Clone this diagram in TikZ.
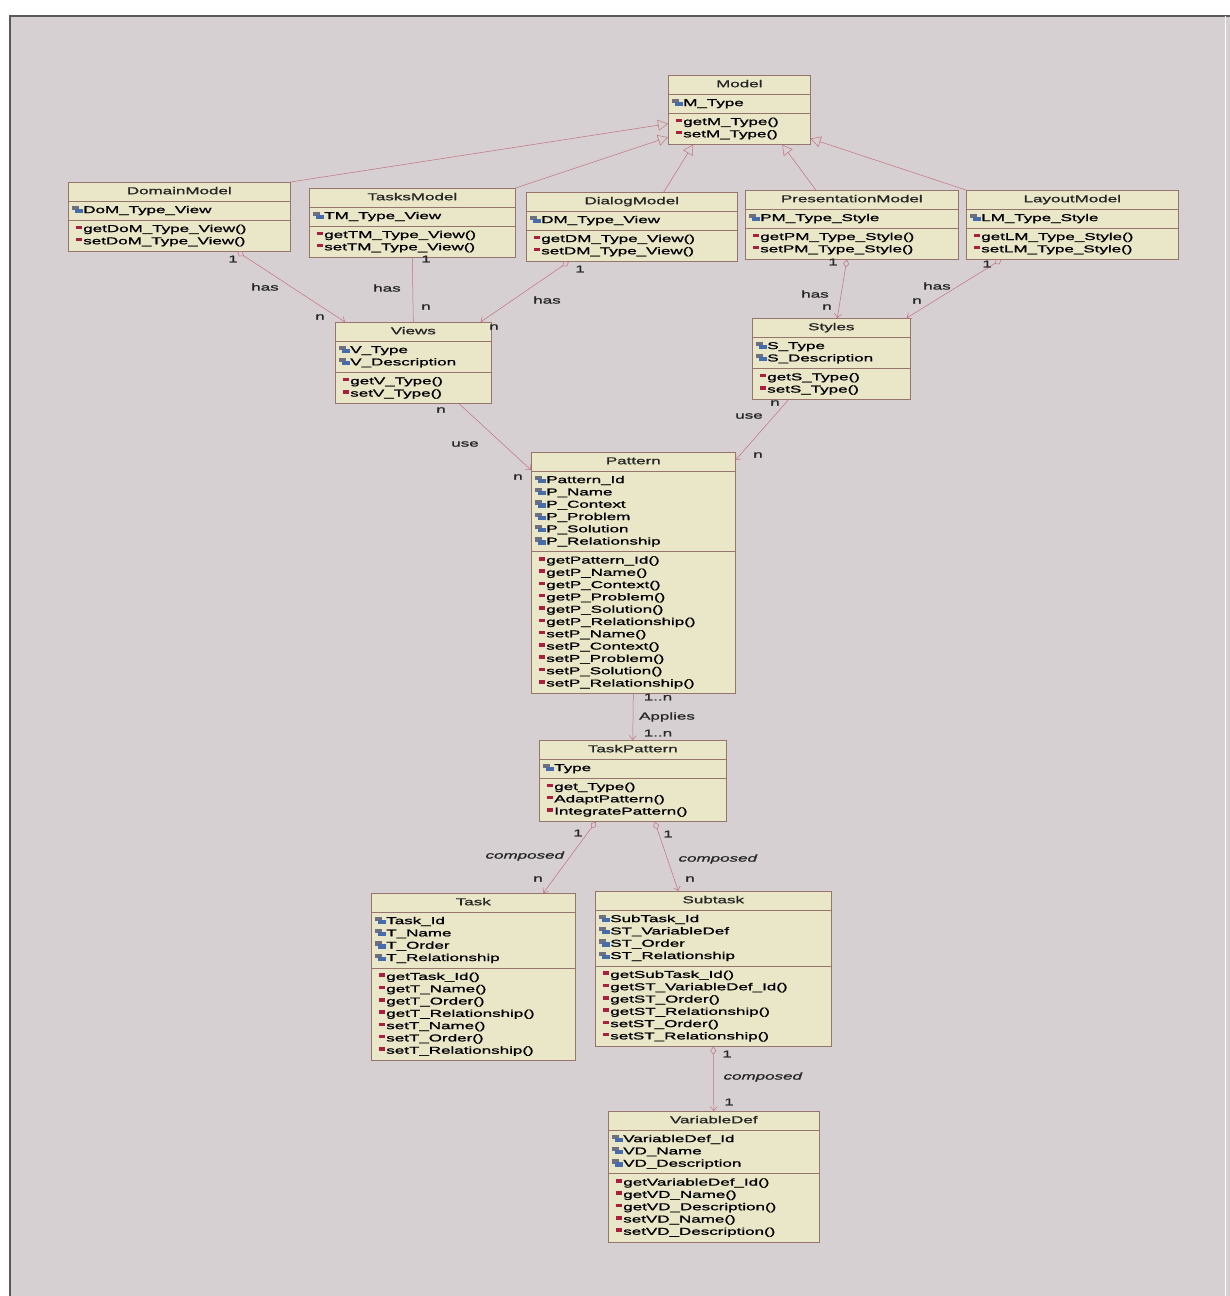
\documentclass[tikz,border=0pt]{standalone}
\usepackage{fontspec}
\setmainfont{Liberation Sans}[FakeStretch=1.7, FakeBold=1.2]
\usepackage{xcolor}
\usetikzlibrary{shapes.multipart,arrows.meta}

\definecolor{panelgray}{RGB}{214,208,211}
\definecolor{clsfill}{RGB}{234,231,200}
\definecolor{clsline}{RGB}{150,118,108}
\definecolor{linkcol}{RGB}{196,112,126}
\definecolor{attblue}{RGB}{70,108,170}
\definecolor{attgray}{RGB}{110,112,128}
\definecolor{opred}{RGB}{168,32,62}

\newcommand{\atticon}{\mbox{\rlap{\textcolor{attgray}{\rule[3pt]{7pt}{4.5pt}}}\hspace{2.5pt}\textcolor{attblue}{\rule[0pt]{8pt}{4.5pt}}\hspace{0.5pt}}}
\newcommand{\opicon}{\mbox{\hspace*{4pt}\textcolor{opred}{\rule[3pt]{6pt}{3.5pt}}\hspace{1pt}}}
\newcommand{\attr}[1]{\atticon#1\strut}
\newcommand{\oper}[1]{\opicon#1\strut}
\newcommand{\ctitle}[1]{\hspace*{\fill}#1\hspace*{\fill}\strut}

\begin{document}
\begin{tikzpicture}[x=1pt, y=-1pt,
  umlclass/.style={rectangle split, rectangle split parts=3, draw=clsline, fill=clsfill,
    anchor=north west, align=left, inner xsep=4pt, inner ysep=3pt, line width=0.6pt,
    font=\fontsize{10}{12.3}\selectfont, text=black!85},
  lbl/.style={font=\fontsize{10}{12}\selectfont, text=black!85, inner sep=0pt},
  link/.style={draw=linkcol, line width=0.5pt},
  gen/.style={link, -{Triangle[open, length=10pt, width=11pt]}},
  agg/.style={link, {Diamond[open, length=8pt, width=6pt]}-{Straight Barb[length=4pt, width=7pt]}},
  useline/.style={link, -{Straight Barb[length=4pt, width=7pt]}}]
\useasboundingbox (0,0) rectangle (1230,1296);
\fill[white] (0,0) rectangle (1230,1296);
\fill[panelgray] (10,16) rectangle (1230,1296);
\draw[black!65, line width=1.5pt] (10,1296) -- (10,16) -- (1230,16);
\draw[white, line width=1pt] (1225,16) -- (1225,1296);

% top row
\node[umlclass, text width=134pt] (model) at (668,75) {\ctitle{Model}
  \nodepart{two}\attr{M\_Type}
  \nodepart{three}\oper{getM\_Type()}\\\oper{setM\_Type()}};
\node[umlclass, text width=214pt] (domainmodel) at (68,182) {\ctitle{DomainModel}
  \nodepart{two}\attr{DoM\_Type\_View}
  \nodepart{three}\oper{getDoM\_Type\_View()}\\\oper{setDoM\_Type\_View()}};
\node[umlclass, text width=198pt] (tasksmodel) at (309,188) {\ctitle{TasksModel}
  \nodepart{two}\attr{TM\_Type\_View}
  \nodepart{three}\oper{getTM\_Type\_View()}\\\oper{setTM\_Type\_View()}};
\node[umlclass, text width=203pt] (dialogmodel) at (526,192) {\ctitle{DialogModel}
  \nodepart{two}\attr{DM\_Type\_View}
  \nodepart{three}\oper{getDM\_Type\_View()}\\\oper{setDM\_Type\_View()}};
\node[umlclass, text width=205pt] (presentationmodel) at (745,190) {\ctitle{PresentationModel}
  \nodepart{two}\attr{PM\_Type\_Style}
  \nodepart{three}\oper{getPM\_Type\_Style()}\\\oper{setPM\_Type\_Style()}};
\node[umlclass, text width=204pt] (layoutmodel) at (966,190) {\ctitle{LayoutModel}
  \nodepart{two}\attr{LM\_Type\_Style}
  \nodepart{three}\oper{getLM\_Type\_Style()}\\\oper{setLM\_Type\_Style()}};

% views and styles
\node[umlclass, text width=148pt] (views) at (335,322) {\ctitle{Views}
  \nodepart{two}\attr{V\_Type}\\\attr{V\_Description}
  \nodepart{three}\oper{getV\_Type()}\\\oper{setV\_Type()}};
\node[umlclass, text width=150pt] (styles) at (752,318) {\ctitle{Styles}
  \nodepart{two}\attr{S\_Type}\\\attr{S\_Description}
  \nodepart{three}\oper{getS\_Type()}\\\oper{setS\_Type()}};

% pattern
\node[umlclass, text width=196pt] (pattern) at (531,452) {\ctitle{Pattern}
  \nodepart{two}\attr{Pattern\_Id}\\\attr{P\_Name}\\\attr{P\_Context}\\\attr{P\_Problem}\\\attr{P\_Solution}\\\attr{P\_Relationship}
  \nodepart{three}\oper{getPattern\_Id()}\\\oper{getP\_Name()}\\\oper{getP\_Context()}\\\oper{getP\_Problem()}\\\oper{getP\_Solution()}\\\oper{getP\_Relationship()}\\\oper{setP\_Name()}\\\oper{setP\_Context()}\\\oper{setP\_Problem()}\\\oper{setP\_Solution()}\\\oper{setP\_Relationship()}};
\node[umlclass, text width=179pt] (taskpattern) at (539,740) {\ctitle{TaskPattern}
  \nodepart{two}\attr{Type}
  \nodepart{three}\oper{get\_Type()}\\\oper{AdaptPattern()}\\\oper{IntegratePattern()}};

% tasks
\node[umlclass, text width=196pt] (task) at (371,893) {\ctitle{Task}
  \nodepart{two}\attr{Task\_Id}\\\attr{T\_Name}\\\attr{T\_Order}\\\attr{T\_Relationship}
  \nodepart{three}\oper{getTask\_Id()}\\\oper{getT\_Name()}\\\oper{getT\_Order()}\\\oper{getT\_Relationship()}\\\oper{setT\_Name()}\\\oper{setT\_Order()}\\\oper{setT\_Relationship()}};
\node[umlclass, text width=228pt] (subtask) at (595,891) {\ctitle{Subtask}
  \nodepart{two}\attr{SubTask\_Id}\\\attr{ST\_VariableDef}\\\attr{ST\_Order}\\\attr{ST\_Relationship}
  \nodepart{three}\oper{getSubTask\_Id()}\\\oper{getST\_VariableDef\_Id()}\\\oper{getST\_Order()}\\\oper{getST\_Relationship()}\\\oper{setST\_Order()}\\\oper{setST\_Relationship()}};
\node[umlclass, text width=203pt] (variabledef) at (608,1111) {\ctitle{VariableDef}
  \nodepart{two}\attr{VariableDef\_Id}\\\attr{VD\_Name}\\\attr{VD\_Description}
  \nodepart{three}\oper{getVariableDef\_Id()}\\\oper{getVD\_Name()}\\\oper{getVD\_Description()}\\\oper{setVD\_Name()}\\\oper{setVD\_Description()}};

% inheritance
\draw[gen] (domainmodel.north east) -- (model.191);
\draw[gen] (tasksmodel.north east) -- (model.201);
\draw[gen] ([xshift=32pt]dialogmodel.north) -- (model.217);
\draw[gen] ([xshift=-36pt]presentationmodel.north) -- (model.321);
\draw[gen] (layoutmodel.north west) -- (model.338);

% has
\draw[agg] ([xshift=58pt]domainmodel.south) -- ([xshift=10pt]views.north west);
\draw[link] (tasksmodel.south) -- (views.north);
\draw[agg] ([xshift=-63pt]dialogmodel.south) -- ([xshift=-11pt]views.north east);
\draw[agg] ([xshift=-5pt]presentationmodel.south) -- ([xshift=6pt]styles.north);
\draw[agg] ([xshift=-71pt]layoutmodel.south) -- ([xshift=-4pt]styles.north east);
\node[lbl] (dom-one) at (233,259) {1};
\node[lbl] (dom-has) at (265,287) {has};
\node[lbl] (dom-n) at (320,317) {n};
\node[lbl] (tm-one) at (426,259) {1};
\node[lbl] (tm-has) at (387,288) {has};
\node[lbl] (tm-n) at (426,307) {n};
\node[lbl] (dm-one) at (580,269) {1};
\node[lbl] (dm-has) at (547,300) {has};
\node[lbl] (dm-n) at (494,327) {n};
\node[lbl] (pm-one) at (833,262) {1};
\node[lbl] (pm-has) at (815,294) {has};
\node[lbl] (pm-n) at (827,307) {n};
\node[lbl] (lm-one) at (987,264) {1};
\node[lbl] (lm-has) at (937,286) {has};
\node[lbl] (lm-n) at (917,301) {n};

% use
\draw[useline] ([xshift=46pt]views.south) -- ([yshift=-18pt]pattern.north west);
\draw[useline] ([xshift=-43pt]styles.south) -- ([yshift=-8pt]pattern.north east);
\node[lbl] (v-n) at (441,410) {n};
\node[lbl] (v-use) at (465,444) {use};
\node[lbl] (vp-n) at (518,477) {n};
\node[lbl] (s-n) at (775,403) {n};
\node[lbl] (s-use) at (749,416) {use};
\node[lbl] (sp-n) at (758,455) {n};

% applies
\draw[useline] (pattern.south) -- (taskpattern.north);
\node[lbl] (p-mult) at (658,697) {1..n};
\node[lbl] (p-applies) at (667,717) {Applies};
\node[lbl] (tp-mult) at (658,733) {1..n};

% composed
\draw[agg] ([xshift=-37pt]taskpattern.south) -- ([xshift=70pt]task.north);
\draw[agg] ([xshift=22pt]taskpattern.south) -- ([xshift=-35pt]subtask.north);
\draw[agg] (subtask.south) -- (variabledef.north);
\node[lbl] (t-one) at (578,833) {1};
\node[lbl] (t-comp) at (525,856) {\textit{composed}};
\node[lbl] (t-n) at (538,879) {n};
\node[lbl] (st-one) at (668,834) {1};
\node[lbl] (st-comp) at (718,859) {\textit{composed}};
\node[lbl] (st-n) at (690,879) {n};
\node[lbl] (vd-one) at (727,1054) {1};
\node[lbl] (vd-comp) at (763,1077) {\textit{composed}};
\node[lbl] (vd-one2) at (729,1102) {1};
\end{tikzpicture}
\end{document}
